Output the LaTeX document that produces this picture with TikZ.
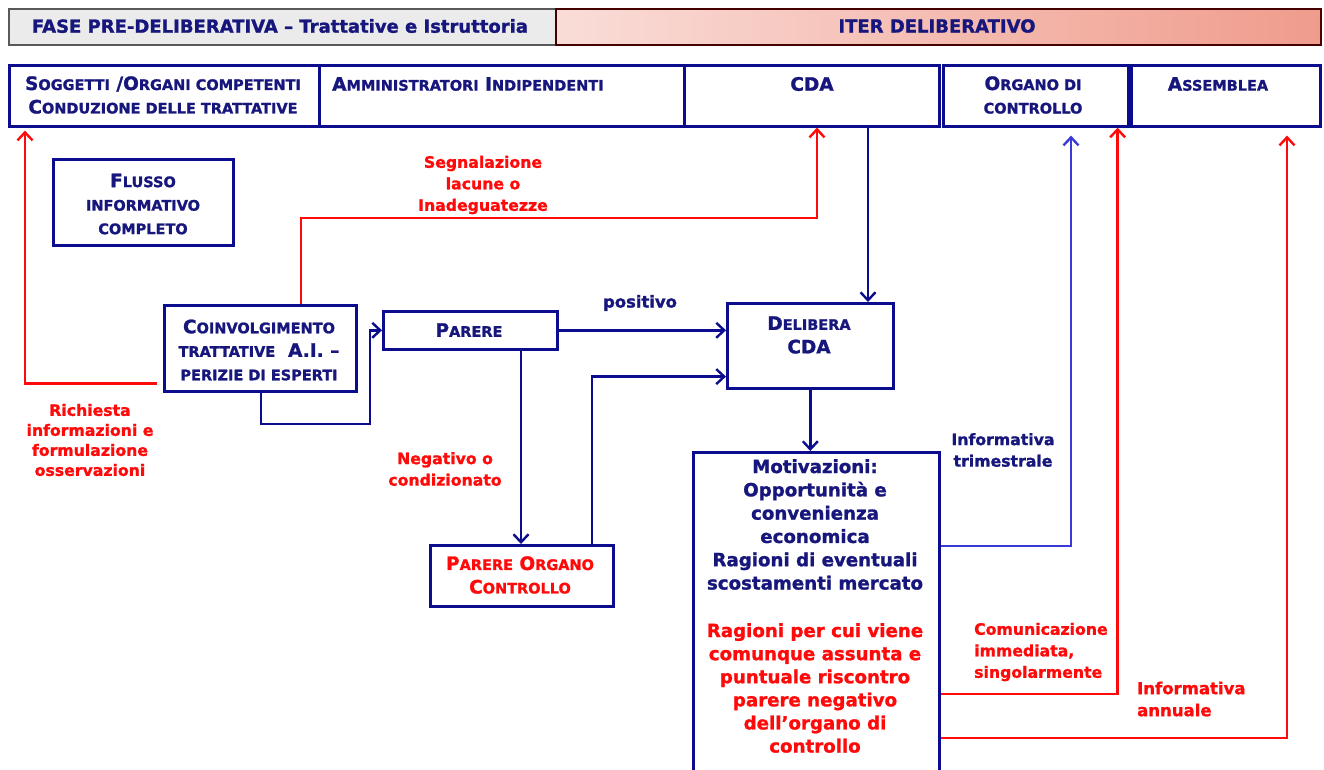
\documentclass[tikz,border=0pt]{standalone}
\usepackage{fontspec}
\setmainfont{DejaVu Sans}[BoldFeatures={FakeBold=1.3}]
\usetikzlibrary{arrows.meta}
\definecolor{navy}{HTML}{0C0C8E}
\definecolor{navytext}{HTML}{16167C}
\definecolor{infoblue}{HTML}{3A3AD8}
\definecolor{alert}{HTML}{FF0A0A}
\definecolor{headgray}{HTML}{EBEBEB}
\definecolor{shadeL}{HTML}{FADDD8}
\definecolor{shadeR}{HTML}{EF9C8C}
% pseudo small capitals
\newcommand\lo[1]{{\fontsize{14.5}{14.5}\selectfont #1}}
\begin{document}
\begin{tikzpicture}[x=1pt,y=-1pt,
  cell/.style={draw=navy,line width=2.6pt,rectangle,anchor=north west,inner sep=0pt},
  box/.style={draw=navy,line width=2.6pt,rectangle,anchor=north west,inner sep=0pt},
  txt/.style={font=\bfseries\fontsize{18.5}{23.5}\selectfont,text=navytext,align=center,inner sep=0pt},
  lbl/.style={font=\bfseries\fontsize{15.7}{21.5}\selectfont,align=center,inner sep=0pt},
  flow/.style={draw=navy,line width=2.6pt,-{Straight Barb[length=8pt,width=15pt,line width=2.4pt]}},
  redflow/.style={draw=alert,line width=2.6pt,-{Straight Barb[length=8pt,width=15pt,line width=2.4pt]}},
  infoflow/.style={draw=infoblue,line width=2.6pt,-{Straight Barb[length=8pt,width=15pt,line width=2.4pt]}}]
\useasboundingbox (0,0) rectangle (1324,769);
\fill[white] (0,0) rectangle (1324,769);

% phase headers
\node[cell,draw=black!65,line width=1.8pt,fill=headgray,minimum width=547pt,minimum height=36pt] (phase1) at (8,8) {};
\shade[left color=shadeL,right color=shadeR] (555,8) rectangle (1320,44);
\node[cell,draw=black!55!red!60!black,line width=1.8pt,minimum width=765pt,minimum height=36pt] (phase2) at (555,8) {};
\node[font=\bfseries\fontsize{18}{20}\selectfont,text=navytext,inner sep=0pt] (phase1t) at (280,26) {FASE PRE-DELIBERATIVA -- Trattative e Istruttoria};
\node[font=\bfseries\fontsize{18}{20}\selectfont,text=navytext,inner sep=0pt] (phase2t) at (937,26) {ITER DELIBERATIVO};

% subject columns
\node[cell,minimum width=310pt,minimum height=61pt] (sogg) at (8,64) {};
\node[cell,minimum width=365pt,minimum height=61pt] (ammi) at (318,64) {};
\node[cell,minimum width=255pt,minimum height=61pt] (cda) at (683,64) {};
\node[cell,minimum width=185pt,minimum height=61pt] (organo) at (942,64) {};
\node[cell,minimum width=189pt,minimum height=61pt] (assem) at (1130,64) {};
\node[txt] (soggt) at (163,95) {S\lo{OGGETTI} /O\lo{RGANI COMPETENTI}\\C\lo{ONDUZIONE DELLE TRATTATIVE}};
\node[txt,anchor=west] (ammit) at (332,84) {A\lo{MMINISTRATORI} I\lo{NDIPENDENTI}};
\node[txt] (cdat) at (812,84) {CDA};
\node[txt] (organot) at (1033,95) {O\lo{RGANO DI}\\\lo{CONTROLLO}};
\node[txt] (assemt) at (1218,84) {A\lo{SSEMBLEA}};

% process boxes
\node[box,minimum width=180pt,minimum height=86pt] (flusso) at (52,158) {};
\node[txt] (flussot) at (143,204) {F\lo{LUSSO}\\\lo{INFORMATIVO}\\\lo{COMPLETO}};
\node[box,minimum width=192pt,minimum height=86pt] (coinv) at (163,304) {};
\node[txt] (coinvt) at (259,350) {C\lo{OINVOLGIMENTO}\\\lo{TRATTATIVE} \ A.I. --\\\lo{PERIZIE DI ESPERTI}};
\node[box,minimum width=174pt,minimum height=38pt] (parere) at (382,310) {};
\node[txt] (pareret) at (469,330) {P\lo{ARERE}};
\node[box,minimum width=166pt,minimum height=85pt] (delib) at (726,302) {};
\node[txt] (delibt) at (809,335) {D\lo{ELIBERA}\\CDA};
\node[box,minimum width=183pt,minimum height=61pt] (porg) at (429,544) {};
\node[txt,text=alert] (porgt) at (520,575) {P\lo{ARERE} O\lo{RGANO}\\C\lo{ONTROLLO}};
\node[box,minimum width=246pt,minimum height=330pt] (motiv) at (692,451) {};
\node[txt,font=\bfseries\fontsize{18.2}{23.3}\selectfont,anchor=north] (motivt) at (815,459)
  {Motivazioni:\\Opportunità e\\convenienza\\economica\\Ragioni di eventuali\\scostamenti mercato};
\node[txt,font=\bfseries\fontsize{18.2}{23.1}\selectfont,text=alert,anchor=north] (motivr) at (815,623)
  {Ragioni per cui viene\\comunque assunta e\\puntuale riscontro\\parere negativo\\dell’organo di\\controllo};

% connectors
\draw[redflow] ([xshift=-6pt,yshift=9pt]coinv.south west) -| ([xshift=17pt,yshift=-3pt]sogg.south west);
\draw[redflow] ([xshift=138pt]coinv.north west) -- (301,218) -| ([xshift=134pt]cda.south west);
\draw[flow] ([xshift=98pt]coinv.south west) -- (261,424) -- (370,424) |- (parere.west);
\draw[flow] (parere.east) -- (parere.east -| delib.west);
\coordinate (pneg) at ([xshift=139pt]parere.south west);
\draw[flow] (pneg) -- (pneg |- porg.north);
\draw[flow] ([xshift=163pt]porg.north west) |- ([yshift=13pt]delib.south west);
\coordinate (cdaout) at ([xshift=185pt]cda.south west);
\draw[flow] (cdaout) -- (cdaout |- delib.north);
\draw[flow] (delib.south) -- (delib.south |- motiv.north);
\draw[infoflow] ([yshift=-95pt]motiv.north east) -| ([xshift=129pt,yshift=-8pt]organo.south west);
\draw[redflow] ([yshift=-243pt]motiv.north east) -| ([xshift=-12pt]organo.south east);
\draw[redflow] ([yshift=-287pt]motiv.north east) -| ([xshift=157pt,yshift=-8pt]assem.south west);

% connector labels
\node[lbl,text=navytext,font=\bfseries\fontsize{16.4}{21}\selectfont] (lpos) at (640,303) {positivo};
\node[lbl,text=alert] (lneg) at (445,469) {Negativo o\\condizionato};
\node[lbl,text=alert] (lseg) at (483,185) {Segnalazione\\lacune o\\Inadeguatezze};
\node[lbl,text=alert,font=\bfseries\fontsize{15.7}{20}\selectfont] (lric) at (90,440) {Richiesta\\informazioni e\\formulazione\\osservazioni};
\node[lbl,text=navytext] (ltri) at (1003,450) {Informativa\\trimestrale};
\node[lbl,text=alert,align=left,anchor=west] (lcom) at (974,652) {Comunicazione\\immediata,\\singolarmente};
\node[lbl,text=alert,align=left,anchor=west,font=\bfseries\fontsize{16.5}{22}\selectfont] (lann) at (1137,699) {Informativa\\annuale};
\end{tikzpicture}
\end{document}
